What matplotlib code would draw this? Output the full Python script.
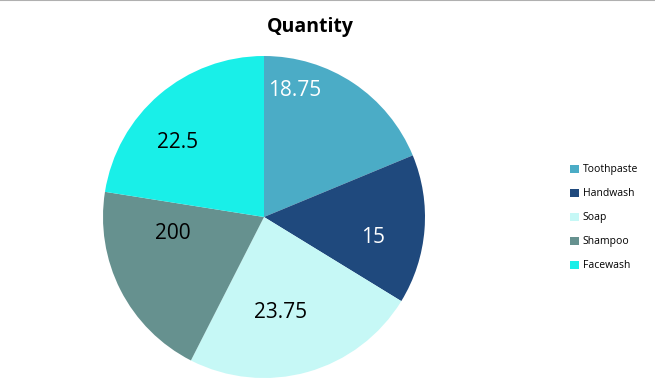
import matplotlib.pyplot as plt
from matplotlib.lines import Line2D
from matplotlib.patches import Patch
import numpy as np

# Dati
categorie = ['Toothpaste', 'Handwash', 'Soap', 'Shampoo', 'Facewash']
valori = [18.75, 15, 23.75, 20, 22.5]
etichette = ['18.75', '15', '23.75', '200', '22.5']
colori = ['#4BACC6', '#1F497D', '#C6F8F6', '#66918F', '#19EFE8']
colori_testo = ['white', 'white', 'black', 'black', 'black']

# posizione delle etichette (distanza dal centro, spostamento angolare)
lab_r = [0.81, 0.69, 0.60, 0.575, 0.71]
lab_dth = [20, -6, -6, -17, 9]

plt.rcParams['font.family'] = ['Open Sans', 'DejaVu Sans']

fig = plt.figure(figsize=(6.55, 3.86), dpi=100)
ax = fig.add_axes([103 / 655, 8 / 386, 322 / 655, 322 / 386])

wedges, _ = ax.pie(valori, colors=colori, startangle=90, counterclock=False,
                   radius=1, wedgeprops=dict(linewidth=0))
ax.set_xlim(-1, 1)
ax.set_ylim(-1, 1)
ax.set_aspect('equal')
ax.axis('off')

for w, t, c, r, dth in zip(wedges, etichette, colori_testo, lab_r, lab_dth):
    ang = np.deg2rad((w.theta1 + w.theta2) / 2 + dth)
    ax.text(r * np.cos(ang), r * np.sin(ang), t, color=c, fontsize=15,
            ha='center', va='center')

fig.text(310 / 655, 1 - 27 / 386, 'Quantity', fontsize=14, fontweight='bold',
         ha='center', va='center')

handles = [Patch(facecolor=c, edgecolor='none') for c in colori]
fig.legend(handles, categorie, loc='upper left', bbox_to_anchor=(565 / 655, 1 - 159 / 386),
           frameon=False, fontsize=7.5, handlelength=0.8, handleheight=0.8,
           handletextpad=0.4, labelspacing=1.25, borderpad=0)

# bordo superiore grigio
fig.add_artist(Line2D([0, 1], [0.999, 0.999], color='#b0b0b0', linewidth=1.5))

plt.savefig('out.png')
